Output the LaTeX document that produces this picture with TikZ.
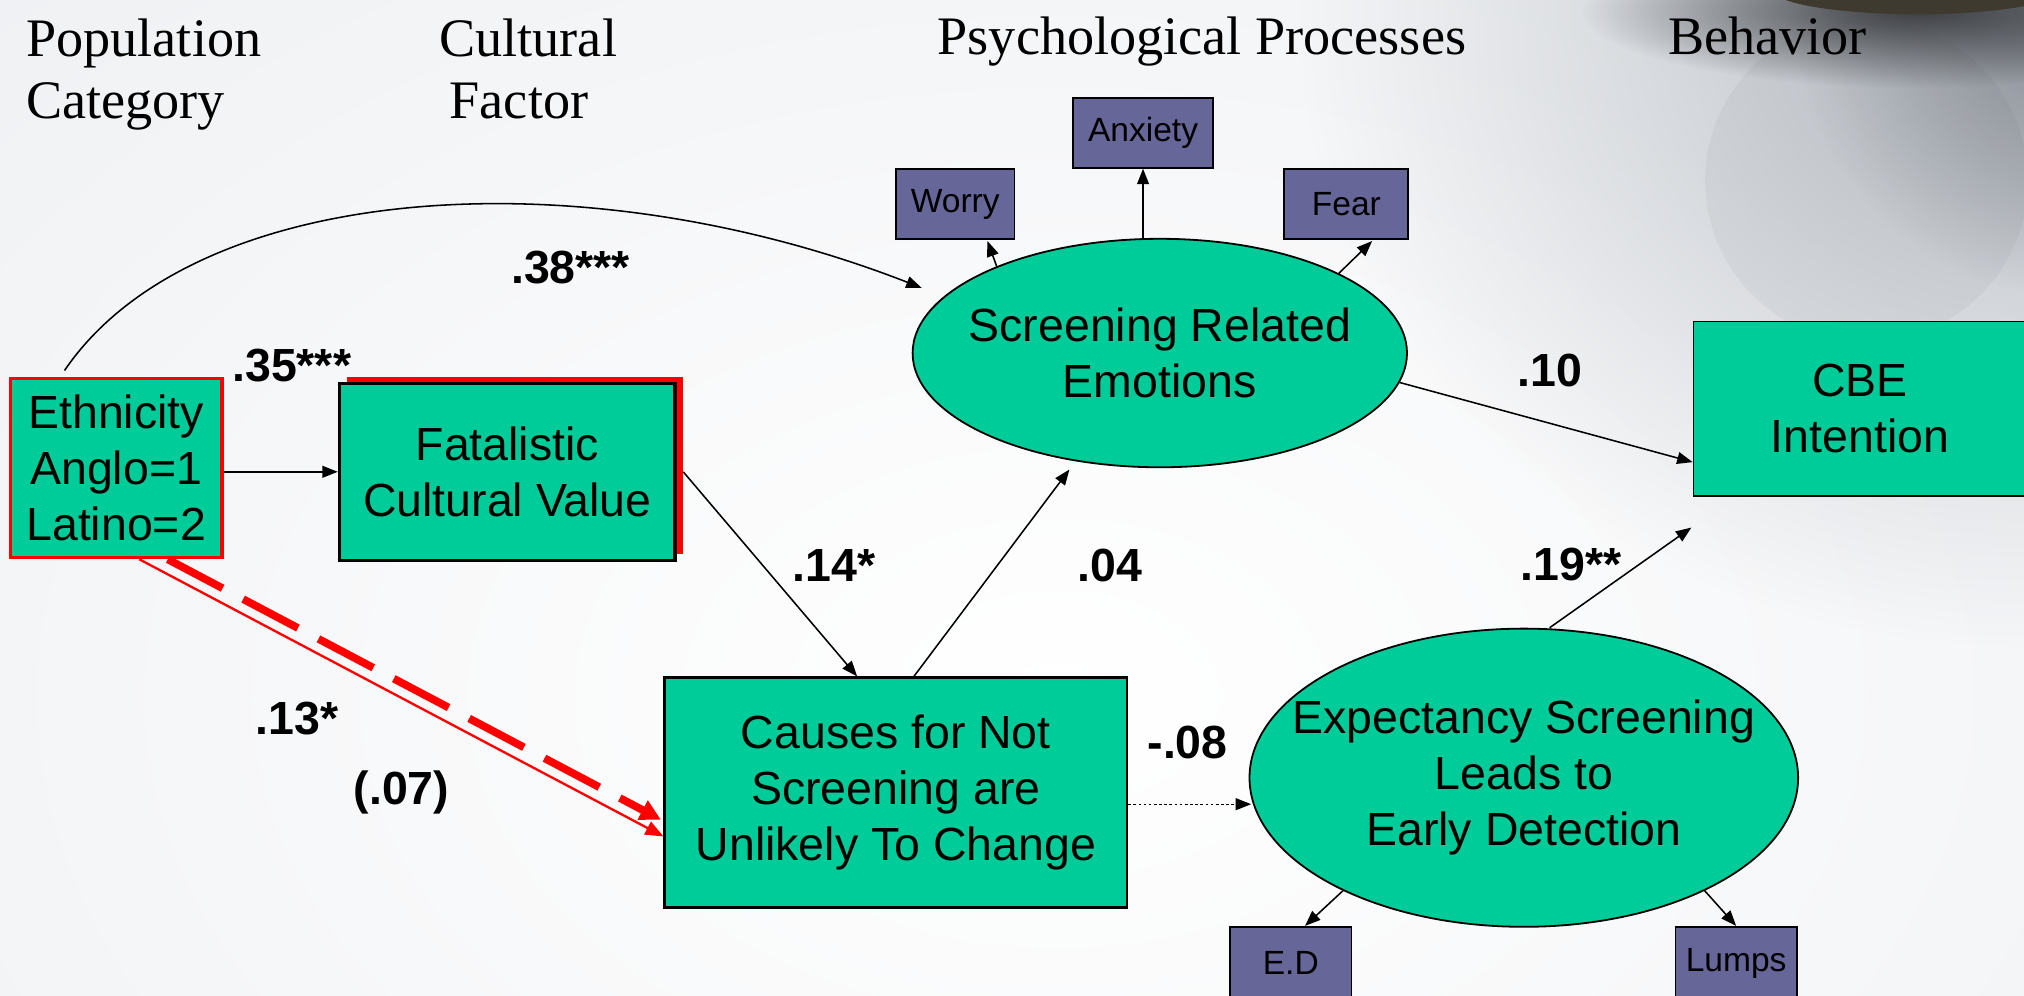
\documentclass[tikz,border=0pt]{standalone}
\usepackage{fontspec}
\setmainfont{Liberation Sans}
\newfontfamily\hdrfont{Liberation Serif}
\usetikzlibrary{arrows.meta,shapes.geometric,calc,shadows,fadings}
\definecolor{tealc}{RGB}{0,204,153}
\definecolor{purpc}{RGB}{102,102,153}
\definecolor{redc}{RGB}{255,0,0}
\definecolor{bgc}{RGB}{235,237,240}
\definecolor{grayc}{RGB}{186,191,198}
\definecolor{cornerc}{RGB}{135,140,148}
\definecolor{shadc}{RGB}{60,62,66}
\definecolor{objc}{RGB}{62,58,48}
\tikzfading[name=softcirc, inner color=transparent!0, outer color=transparent!100]
\newcommand\bigtxt{\fontsize{18}{21.7}\selectfont}
\newcommand\smalltxt{\fontsize{13}{15}\selectfont}
\newcommand\hdrtxt{\hdrfont\fontsize{21}{24}\selectfont}
\begin{document}
\begin{tikzpicture}[x=0.5pt,y=-0.5pt,
  tbox/.style={rectangle,fill=tealc,draw=black,line width=0.8pt,inner sep=0pt,align=center,font=\bigtxt},
  pbox/.style={rectangle,fill=purpc,draw=black,line width=0.7pt,inner sep=0pt,font=\smalltxt},
  oval/.style={ellipse,fill=tealc,draw=black,line width=0.7pt,inner sep=0pt},
  otext/.style={align=center,font=\bigtxt,inner sep=0pt},
  coef/.style={font=\bigtxt\bfseries,inner sep=0pt},
  hdr/.style={font=\hdrtxt,anchor=base west,inner sep=0pt},
  arr/.style={-{Triangle[length=6pt,width=4.6pt]},line width=0.6pt},
  redthin/.style={draw=redc,-{Triangle[length=7pt,width=5.5pt]},line width=0.9pt},
  redthick/.style={draw=redc,-{Triangle[length=8pt,width=8pt]},line width=3pt,dash pattern=on 24pt off 9pt}
]
\useasboundingbox (0,0) rectangle (1568,771);
\clip (0,0) rectangle (1568,771);
% background
\fill[bgc] (0,0) rectangle (1568,771);
\shade[inner color=white,outer color=bgc] (820,540) ellipse [x radius=1500,y radius=1000];
\fill[grayc,path fading=softcirc] (1568,20) ellipse [x radius=560,y radius=480];
\fill[cornerc,path fading=softcirc] (1610,10) circle (220);
\fill[black,opacity=0.035] (1446,140) circle (125);
\fill[shadc,path fading=softcirc] (1485,8) ellipse [x radius=260,y radius=60];
\fill[objc] (1485,-8) ellipse [x radius=112,y radius=19];

% headers
\node[hdr] (h1) at (20,44) {Population};
\node[hdr] (h2) at (20,92) {Category};
\node[hdr] (h3) at (340,44) {Cultural};
\node[hdr] (h4) at (348,92) {Factor};
\node[hdr] (h5) at (726,42) {Psychological Processes};
\node[hdr] (h6) at (1292,42) {Behavior};

% main nodes
\node[tbox,draw=redc,line width=1.3pt,minimum width=82pt,minimum height=69.5pt] (eth) at (90,362.5) {Ethnicity\\Anglo=1\\Latino=2};
\node[tbox,line width=1.3pt,minimum width=130pt,minimum height=68.5pt,
      general shadow={fill=redc,shadow xshift=3pt,shadow yshift=2.5pt}] (fat) at (393,365.5) {Fatalistic\\Cultural Value};
\node[tbox,line width=1pt,minimum width=179pt,minimum height=89pt] (cause) at (694,614) {Causes for Not\\Screening are\\Unlikely To Change};
\node[oval,minimum width=191.5pt,minimum height=88.5pt] (emo) at (898.5,273.5) {};
\node[otext] (emot) at (emo) {Screening Related\\Emotions};
\node[tbox,line width=0.7pt,minimum width=129pt,minimum height=67.5pt] (cbe) at (1441,316.5) {CBE\\Intention};
\node[oval,minimum width=212.5pt,minimum height=115.5pt] (exp) at (1180.5,602.5) {};
\node[otext] (expt) at (exp) {Expectancy Screening\\Leads to\\Early Detection};

% indicator boxes
\node[pbox,minimum width=46pt,minimum height=27pt] (worry) at (740,158) {Worry};
\node[pbox,minimum width=54.5pt,minimum height=27pt] (anx) at (885.5,103) {Anxiety};
\node[pbox,minimum width=48pt,minimum height=27pt] (fear) at (1043,158) {Fear};
\node[pbox,minimum width=47pt,minimum height=28pt] (ed) at (1000,746) {E.D};
\node[pbox,minimum width=47pt,minimum height=28pt] (lumps) at (1345,746) {Lumps};

% connectors
\coordinate (cstart) at (50,287);
\coordinate (cend) at (714,223);
\draw[arr] (cstart) .. controls (150,140) and (450,120) .. (cend);
\draw[arr] (eth.east |- fat.west) -- (fat.west);
\draw[arr] ($(fat.east)+(5,0)$) -- ($(cause.north)+(-30,0)$);
\draw[arr] ($(cause.north)+(14,0)$) -- ($(emo.south)+(-70,1)$);
\draw[arr] (emo.-7) -- ($(cbe.west)+(0,41.5)$);
\coordinate (cbefree) at ($(cbe.south west)+(-1,24)$);
\draw[arr] ($(exp.north)+(20,0)$) -- (cbefree);
\draw[arr,line width=0.5pt,dash pattern=on 1pt off 1pt] ($(cause.east)+(0,9)$) -- ($(exp.west)+(2,20.5)$);
\draw[arr] (emo.152) -- ($(worry.south)+(25,1)$);
\draw[arr] (emo.north -| anx.south) -- (anx.south);
\draw[arr] (emo.24) -- ($(fear.south)+(20,1)$);
\draw[arr] (exp.212) -- ($(ed.north)+(11,0)$);
\draw[arr] (exp.-32) -- (lumps.north);
\draw[redthin] ($(eth.south)+(18,0)$) -- ($(cause.west)+(0,34)$);
\draw[redthick] ($(eth.south)+(40,0)$) -- ($(cause.west)+(-2,21)$);

% coefficients
\node[coef] (c38) at (442,207) {.38***};
\node[coef] (c35) at (226,283) {.35***};
\node[coef] (c14) at (646,438) {.14*};
\node[coef] (c04) at (860,438) {.04};
\node[coef] (c10) at (1201,287) {.10};
\node[coef] (c19) at (1217,437) {.19**};
\node[coef] (c13) at (230,557) {.13*};
\node[coef] (c07) at (311,614) {(.07)};
\node[coef] (c08) at (920,575) {-.08};
\end{tikzpicture}
\end{document}
